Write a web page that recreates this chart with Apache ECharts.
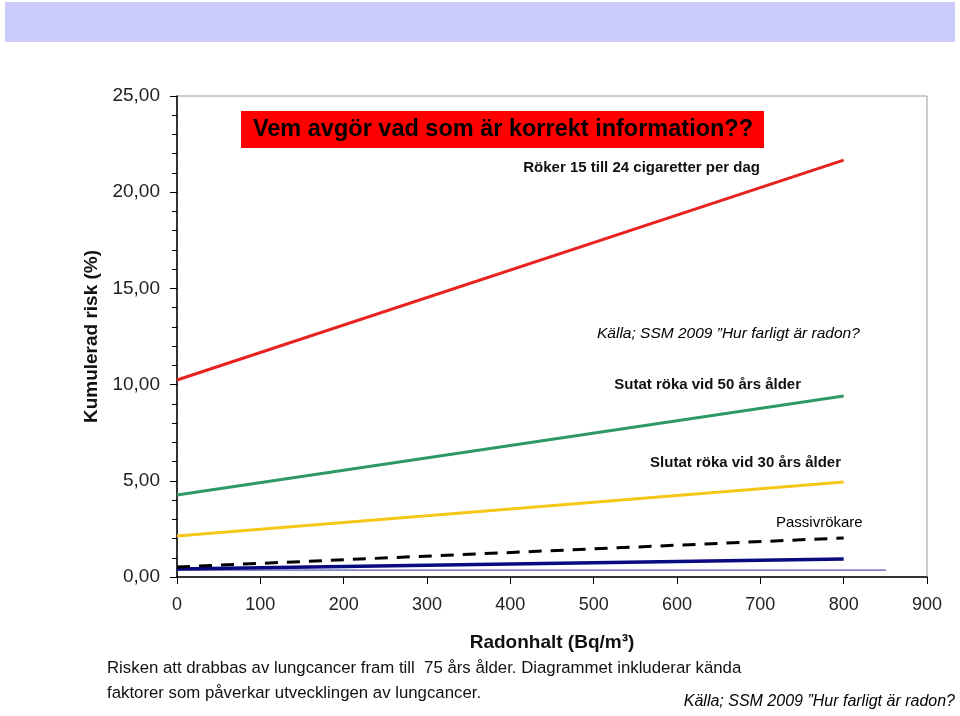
<!DOCTYPE html>
<html><head><meta charset="utf-8">
<script src="https://cdn.jsdelivr.net/npm/echarts@6/dist/echarts.min.js"></script>
<style>html,body{margin:0;padding:0;background:#fff}#c{width:960px;height:716px}</style>
</head><body><div id="c"></div>
<script>
// Data
const radon = [0, 800];
const rokerRisk = [10.24, 21.67];       // Röker 15 till 24 cigaretter per dag
const slutat50Risk = [4.26, 9.41];      // Slutat röka vid 50 års ålder
const slutat30Risk = [2.13, 4.94];      // Slutat röka vid 30 års ålder
const passivRisk = [0.52, 2.03];        // Passivrökare (dashed)
const ickeRokareRisk = [0.42, 0.94];    // never smoker (dark blue)
const baseRadon = [0, 851];
const baseRisk = [0.36, 0.36];          // thin blue baseline
const xTicks = [0, 100, 200, 300, 400, 500, 600, 700, 800, 900];
const yTicks = [0, 5, 10, 15, 20, 25];

const pts = (xs, ys) => xs.map((x, i) => [x, ys[i]]);
const chart = echarts.init(document.getElementById('c'));
const font = 'Liberation Sans, Arial, sans-serif';
chart.setOption({
  animation: false,
  backgroundColor: '#fff',
  grid: {left: 177, right: 33, top: 96, bottom: 139, show: true, borderColor: '#9a9a9a', borderWidth: 1},
  xAxis: {
    type: 'value', min: xTicks[0], max: xTicks[xTicks.length - 1], interval: 100,
    axisLine: {lineStyle: {color: '#000', width: 1.5}},
    axisTick: {length: 7, lineStyle: {color: '#000'}},
    splitLine: {show: false},
    axisLabel: {color: '#222', fontSize: 18, fontFamily: font, margin: 19},
    name: 'Radonhalt (Bq/m³)', nameLocation: 'middle', nameGap: 56,
    nameTextStyle: {fontSize: 19, fontWeight: 'bold', color: '#111', fontFamily: font}
  },
  yAxis: {
    type: 'value', min: yTicks[0], max: yTicks[yTicks.length - 1], interval: 5,
    axisLine: {show: true, lineStyle: {color: '#000', width: 1.5}},
    axisTick: {show: true, length: 7, lineStyle: {color: '#000'}},
    minorTick: {show: true, splitNumber: 5, length: 5, lineStyle: {color: '#000'}},
    splitLine: {show: false},
    axisLabel: {color: '#222', fontSize: 19, fontFamily: font, margin: 17,
      formatter: v => v.toFixed(2).replace('.', ',')},
    name: 'Kumulerad risk (%)', nameLocation: 'middle', nameRotate: 90, nameGap: 75,
    nameTextStyle: {fontSize: 19, fontWeight: 'bold', color: '#111', fontFamily: font}
  },
  series: [
    {type: 'line', data: pts(radon, rokerRisk), symbol: 'none', lineStyle: {color: '#e8231f', width: 3}},
    {type: 'line', data: pts(radon, slutat50Risk), symbol: 'none', lineStyle: {color: '#2f9966', width: 3}},
    {type: 'line', data: pts(radon, slutat30Risk), symbol: 'none', lineStyle: {color: '#f5c518', width: 3}},
    {type: 'line', data: pts(baseRadon, baseRisk), symbol: 'none', lineStyle: {color: '#2b2ba0', width: 1}},
    {type: 'line', data: pts(radon, ickeRokareRisk), symbol: 'none', lineStyle: {color: '#0a0a80', width: 3.5}},
    {type: 'line', data: pts(radon, passivRisk), symbol: 'none', lineStyle: {color: '#000', width: 3, type: [13, 9]}}
  ],
  graphic: [
    {type: 'rect', shape: {x: 5, y: 2, width: 950, height: 40}, style: {fill: '#ccccfa'}},
    {type: 'rect', shape: {x: 241, y: 111, width: 523, height: 37}, style: {fill: '#ff0000'}, z: 10},
    {type: 'text', x: 503, y: 130, z: 11, style: {text: 'Vem avgör vad som är korrekt information??', fill: '#000',
      font: 'bold 23.5px ' + font, textAlign: 'center', textVerticalAlign: 'middle'}},
    {type: 'text', x: 760, y: 168, style: {text: 'Röker 15 till 24 cigaretter per dag', fill: '#111',
      font: 'bold 15px ' + font, textAlign: 'right', textVerticalAlign: 'middle'}},
    {type: 'text', x: 597, y: 334, style: {text: 'Källa; SSM 2009 ”Hur farligt är radon?', fill: '#000',
      font: 'italic 15.5px ' + font, textAlign: 'left', textVerticalAlign: 'middle'}},
    {type: 'text', x: 801, y: 385, style: {text: 'Sutat röka vid 50 års ålder', fill: '#111',
      font: 'bold 15px ' + font, textAlign: 'right', textVerticalAlign: 'middle'}},
    {type: 'text', x: 841, y: 463, style: {text: 'Slutat röka vid 30 års ålder', fill: '#111',
      font: 'bold 15px ' + font, textAlign: 'right', textVerticalAlign: 'middle'}},
    {type: 'text', x: 776, y: 523, style: {text: 'Passivrökare', fill: '#000',
      font: '15px ' + font, textAlign: 'left', textVerticalAlign: 'middle'}},
    {type: 'text', x: 107, y: 668, style: {text: 'Risken att drabbas av lungcancer fram till  75 års ålder. Diagrammet inkluderar kända', fill: '#111',
      font: '16.8px ' + font, textAlign: 'left', textVerticalAlign: 'middle'}},
    {type: 'text', x: 107, y: 693, style: {text: 'faktorer som påverkar utvecklingen av lungcancer.', fill: '#111',
      font: '16.8px ' + font, textAlign: 'left', textVerticalAlign: 'middle'}},
    {type: 'text', x: 955, y: 702, style: {text: 'Källa; SSM 2009 ”Hur farligt är radon?', fill: '#000',
      font: 'italic 16px ' + font, textAlign: 'right', textVerticalAlign: 'middle'}}
  ]
});
</script></body></html>
